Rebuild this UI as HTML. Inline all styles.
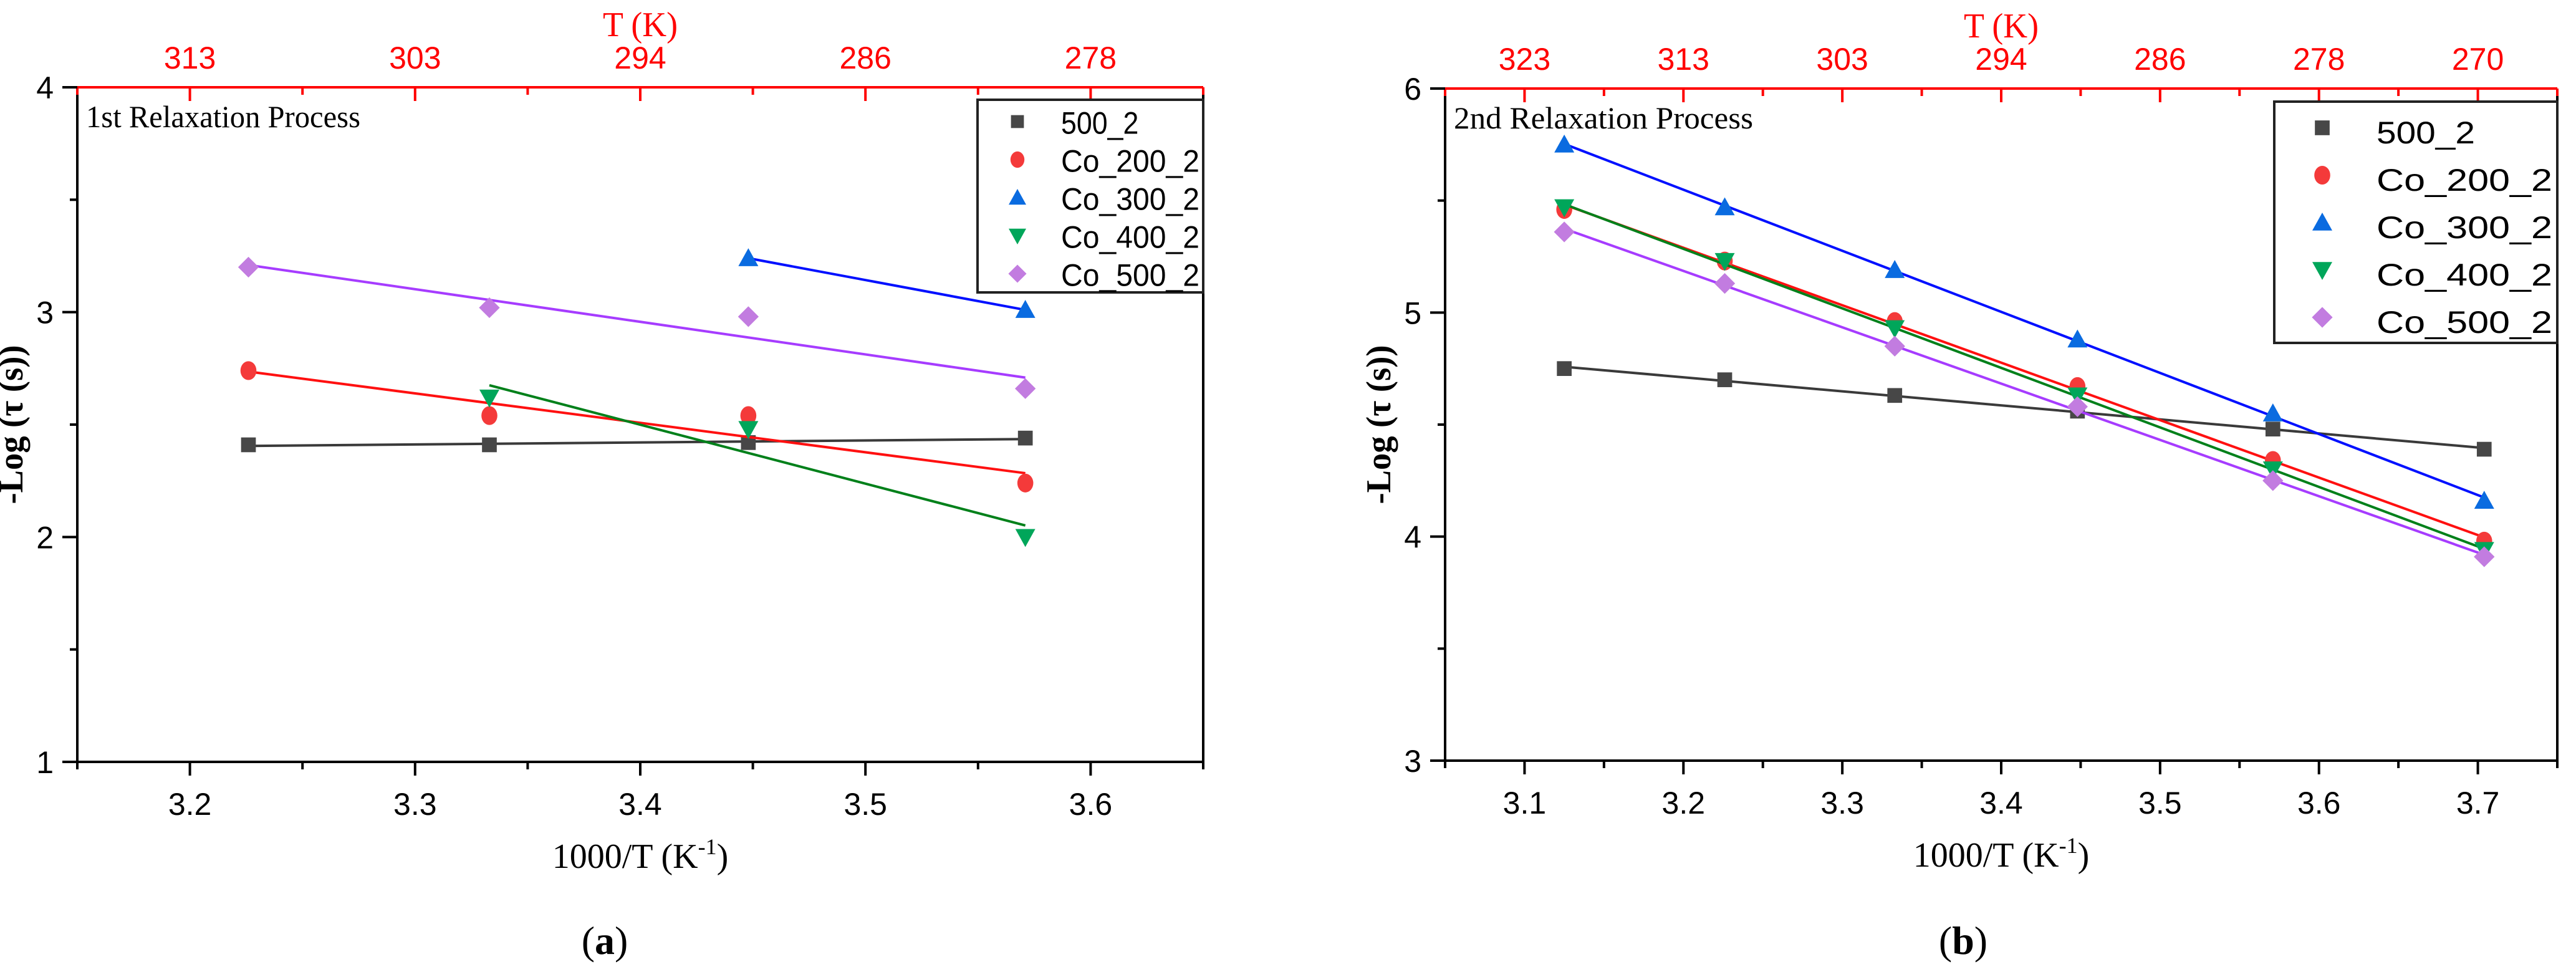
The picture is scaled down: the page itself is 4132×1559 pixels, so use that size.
<!DOCTYPE html>
<html><head><meta charset="utf-8"><style>
html,body{margin:0;padding:0;background:#fff;}
svg{display:block;}
.tk{font-family:"Liberation Sans",Arial,sans-serif;font-size:50px;}
.sr{font-family:"Liberation Serif","Times New Roman",serif;}
</style></head><body>
<svg id="fig" width="4132" height="1559" viewBox="0 0 4132 1559" xmlns="http://www.w3.org/2000/svg"></svg>
<script>
const seriesNames = ["500_2","Co_200_2","Co_300_2","Co_400_2","Co_500_2"];
// Panel (a) data
const xA = [3.226, 3.333, 3.448, 3.571];
const a500 = [2.41, 2.41, 2.42, 2.44];
const aCo200 = [2.74, 2.54, 2.54, 2.24];
const aCo300 = [null, null, 3.24, 3.01];
const aCo400 = [null, 2.62, 2.48, 2.00];
const aCo500 = [3.20, 3.02, 2.98, 2.66];
// Panel (b) data
const xB = [3.125, 3.226, 3.333, 3.448, 3.571, 3.704];
const b500 = [4.75, 4.70, 4.63, 4.56, 4.48, 4.39];
const bCo200 = [5.46, 5.23, 4.96, 4.67, 4.34, 3.98];
const bCo300 = [5.75, 5.47, 5.19, 4.88, 4.55, 4.16];
const bCo400 = [5.47, 5.23, 4.93, 4.63, 4.30, 3.94];
const bCo500 = [5.36, 5.13, 4.85, 4.58, 4.25, 3.91];
// ticks
const aXTicks = [3.2, 3.3, 3.4, 3.5, 3.6];
const aTopLabels = ["313","303","294","286","278"];
const aYTicks = [1, 2, 3, 4];
const bXTicks = [3.1, 3.2, 3.3, 3.4, 3.5, 3.6, 3.7];
const bTopLabels = ["323","313","303","294","286","278","270"];
const bYTicks = [3, 4, 5, 6];

const markerFill = ["#474747","#f43a3a","#0a6be0","#00a65a","#c27ce0"];
const lineCol = ["#3a3a3a","#ff1010","#0010ff","#00801a","#a63cff"];
const shapes = ["square","circle","up","down","diamond"];

const NS = "http://www.w3.org/2000/svg";
const svg = document.getElementById("fig");
function el(tag, attrs, parent){ const e=document.createElementNS(NS,tag); for(const k in attrs) e.setAttribute(k,attrs[k]); (parent||svg).appendChild(e); return e; }

function marker(g, shape, cx, cy, fill, s){
  let m;
  if(shape==="square") m=el("rect",{x:cx-s*0.37,y:cy-s*0.37,width:s*0.74,height:s*0.74,fill:fill},g);
  else if(shape==="circle") m=el("ellipse",{cx:cx,cy:cy,rx:s*0.4,ry:s*0.47,fill:fill},g);
  else if(shape==="up") m=el("polygon",{points:`${cx},${cy-s*0.5} ${cx+s*0.5},${cy+s*0.4} ${cx-s*0.5},${cy+s*0.4}`,fill:fill},g);
  else if(shape==="down") m=el("polygon",{points:`${cx},${cy+s*0.5} ${cx+s*0.5},${cy-s*0.4} ${cx-s*0.5},${cy-s*0.4}`,fill:fill},g);
  else m=el("polygon",{points:`${cx},${cy-s*0.52} ${cx+s*0.52},${cy} ${cx},${cy+s*0.52} ${cx-s*0.52},${cy}`,fill:fill},g);
  return m;
}

function fit(xs, ys){
  const px=[],py=[];
  xs.forEach((x,i)=>{ if(ys[i]!==null){px.push(x);py.push(ys[i]);} });
  const n=px.length, mx=px.reduce((a,b)=>a+b)/n, my=py.reduce((a,b)=>a+b)/n;
  let sxy=0,sxx=0; for(let i=0;i<n;i++){sxy+=(px[i]-mx)*(py[i]-my);sxx+=(px[i]-mx)**2;}
  const k=sxy/sxx; return {x0:px[0],x1:px[n-1],y0:my+k*(px[0]-mx),y1:my+k*(px[n-1]-mx)};
}

function panel(o){
  const g=el("g",{});
  
  
  const X=v=>o.L+(v-o.xmin)/(o.xmax-o.xmin)*(o.R-o.L);
  const Y=v=>o.B-(v-o.ymin)/(o.ymax-o.ymin)*(o.B-o.T);
  const ax=el("path",{d:`M${o.L},${o.T} L${o.L},${o.B} L${o.R},${o.B} M${o.R},${o.T} L${o.R},${o.B+8}`,stroke:"#000","stroke-width":4,fill:"none"},g);
   
  const top=el("line",{x1:o.L,y1:o.T,x2:o.R,y2:o.T,stroke:"#ff0000","stroke-width":4},g);
   
  const step=o.xt[1]-o.xt[0];
  for(let v=o.xmin; v<=o.xmax+1e-9; v+=step/2){
    const major=o.xt.some(t=>Math.abs(t-v)<1e-6);
    const xx=X(v);
    el("line",{x1:xx,y1:o.B,x2:xx,y2:o.B+(major?22:12),stroke:"#000","stroke-width":4},g);
    el("line",{x1:xx,y1:o.T,x2:xx,y2:o.T+(major?22:12),stroke:"#ff0000","stroke-width":4},g);
  }
  o.xt.forEach((v,i)=>{
    const t=el("text",{x:X(v),y:o.B+85,"text-anchor":"middle",class:"tk",fill:"#000"},g); t.textContent=v.toFixed(1);
    
    
    const tt=el("text",{x:X(v),y:o.T-30,"text-anchor":"middle",class:"tk",fill:"#ff0000"},g); tt.textContent=o.top[i];
    
    
  });
  for(let v=o.ymin; v<=o.ymax+1e-9; v+=0.5){
    const major=Math.abs(v-Math.round(v))<1e-6;
    el("line",{x1:o.L,y1:Y(v),x2:o.L-(major?24:12),y2:Y(v),stroke:"#000","stroke-width":4},g);
  }
  o.yt.forEach(v=>{
    const t=el("text",{x:o.L-38,y:Y(v)+18,"text-anchor":"end",class:"tk",fill:"#000"},g); t.textContent=String(v);
    
    
  });
  const tk=el("text",{x:X(o.midx),y:o.T-82,"text-anchor":"middle",class:"sr","font-size":56,fill:"#ff0000",textLength:120,lengthAdjust:"spacingAndGlyphs"},g); tk.textContent="T (K)";
   
  const xt=el("text",{x:X(o.midx),y:o.B+170,"text-anchor":"middle",class:"sr","font-size":56,fill:"#000"},g);
  xt.innerHTML='1000/T (K<tspan dy="-22" font-size="36">-1</tspan><tspan dy="22">)</tspan>';
   
  const yt=el("text",{x:0,y:0,transform:`translate(${o.L-88},${(o.T+o.B)/2}) rotate(-90)`,"text-anchor":"middle",class:"sr","font-size":56,"font-weight":"bold",fill:"#000",textLength:255,lengthAdjust:"spacingAndGlyphs"},g);
  yt.textContent="-Log (τ (s))";
   
  const pt=el("text",{x:o.L+14,y:o.T+64,class:"sr","font-size":50,fill:"#000",textLength:o.titleW,lengthAdjust:"spacingAndGlyphs"},g); pt.textContent=o.title;
   
  const cap=el("text",{x:X(o.midx)+o.capdx,y:1530,"text-anchor":"middle",class:"sr","font-size":64,fill:"#000"},g);
  cap.innerHTML='(<tspan font-weight="bold">'+o.cap+'</tspan>)';
   
  o.series.forEach((ys,si)=>{
    const sg=el("g",{},g);
    
    
    const f=fit(o.xs,ys);
    const ln=el("line",{x1:X(f.x0),y1:Y(f.y0),x2:X(f.x1),y2:Y(f.y1),stroke:lineCol[si],"stroke-width":4},sg);
    
    
    ys.forEach((v,i)=>{ if(v===null) return;
      const m=marker(sg,shapes[si],X(o.xs[i]),Y(v),markerFill[si],32);
      
      
    });
  });
  const lg=el("g",{},g);
   
  el("rect",{x:o.lg.x,y:o.lg.y,width:o.R-o.lg.x,height:o.lg.h,fill:"#fff",stroke:"#222","stroke-width":4},lg);
  seriesNames.forEach((n,i)=>{
    const cy=o.lg.y+o.lg.first+i*o.lg.dy;
    const m=marker(lg,shapes[i],o.lg.mx,cy,markerFill[i],o.lg.ms);
    
    
    const w = n.length===5 ? o.lg.w*0.56 : o.lg.w;
    const t=el("text",{x:o.lg.tx,y:cy+o.lg.fs*0.36,class:"tk","font-size":o.lg.fs,fill:"#000",textLength:w,lengthAdjust:"spacingAndGlyphs"},lg); t.textContent=n;
    
    
  });
}

panel({id:"panel-a",L:124,R:1930,T:140,B:1222,xmin:3.15,xmax:3.65,ymin:1,ymax:4,xt:aXTicks,top:aTopLabels,yt:aYTicks,midx:3.4,
  title:"1st Relaxation Process",titleW:440,cap:"a",capdx:-57,xs:xA,series:[a500,aCo200,aCo300,aCo400,aCo500],
  lg:{x:1568,y:160,h:309,first:35,dy:61,mx:1632,tx:1702,fs:54,ms:28,w:222}});
panel({id:"panel-b",L:2318,R:4102,T:142,B:1220,xmin:3.05,xmax:3.75,ymin:3,ymax:6,xt:bXTicks,top:bTopLabels,yt:bYTicks,midx:3.4,
  title:"2nd Relaxation Process",titleW:480,cap:"b",capdx:-61,xs:xB,series:[b500,bCo200,bCo300,bCo400,bCo500],
  lg:{x:3648,y:163,h:387,first:42,dy:76,mx:3725,tx:3812,fs:70,ms:32,w:282}});
</script>
</body></html>
